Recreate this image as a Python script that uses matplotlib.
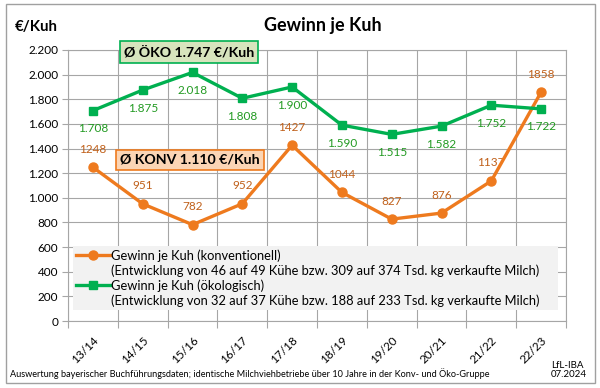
import numpy as np
import matplotlib
matplotlib.use("Agg")
import matplotlib.pyplot as plt
from matplotlib.lines import Line2D
from matplotlib.patches import Rectangle

plt.rcParams['font.family'] = ['Lato', 'DejaVu Sans']

years = ["13/14", "14/15", "15/16", "16/17", "17/18",
         "18/19", "19/20", "20/21", "21/22", "22/23"]
konv = [1248, 951, 782, 952, 1427, 1044, 827, 876, 1137, 1858]
oeko = [1708, 1875, 2018, 1808, 1900, 1590, 1515, 1582, 1752, 1722]
avg_konv = 1110
avg_oeko = 1747
yticks = [0, 200, 400, 600, 800, 1000, 1200, 1400, 1600, 1800, 2000, 2200]

ORANGE = "#EE7A1E"
ORANGE_TXT = "#C0601A"
GREEN = "#00B050"
GREEN_TXT = "#229A22"
GRID = "#A6A6A6"


def de(v):
    return f"{v:,.0f}".replace(",", ".")


fig = plt.figure(figsize=(6.0, 3.88), dpi=100)
ax = fig.add_axes([68 / 600, 1 - 321 / 388, 498 / 600, 271 / 388])

x = np.arange(len(years))
ax.plot(x, konv, color=ORANGE, lw=2.4, marker="o", ms=6.5, zorder=5)
ax.plot(x, oeko, color=GREEN, lw=2.4, marker="s", ms=6, zorder=5)

for xi, v in zip(x, konv):
    ax.annotate(str(v), (xi, v), xytext=(0, 13), textcoords="offset points",
                ha="center", va="center", color=ORANGE_TXT, fontsize=8.5)
for xi, v in zip(x, oeko):
    ax.annotate(de(v), (xi, v), xytext=(0, -13), textcoords="offset points",
                ha="center", va="center", color=GREEN_TXT, fontsize=8.5)

ax.set_xlim(-0.5, len(years) - 0.5)
ax.set_ylim(0, 2200)
ax.set_yticks(yticks)
ax.set_yticklabels([de(v) for v in yticks], fontsize=8.5)
ax.set_xticks(x)
ax.set_xticklabels(years, rotation=45, ha="right", rotation_mode="anchor",
                   fontsize=8.5)
ax.tick_params(axis="x", which="major", length=0, pad=10)
ax.set_xticks(np.arange(len(years) + 1) - 0.5, minor=True)
ax.tick_params(axis="x", which="minor", length=5, color=GRID, width=0.8)
ax.tick_params(axis="y", length=4, color=GRID, width=0.8, pad=3)
ax.grid(True, axis="y", color=GRID, lw=0.8)
ax.grid(True, axis="x", which="minor", color=GRID, lw=0.8)
for s in ax.spines.values():
    s.set_color(GRID)
    s.set_linewidth(0.8)

h1 = Line2D([], [], color=ORANGE, lw=2.4, marker="o", ms=6.5)
h2 = Line2D([], [], color=GREEN, lw=2.4, marker="s", ms=6)
blank = Line2D([], [], color="none")
labels = ["Gewinn je Kuh (konventionell)",
          "(Entwicklung von 46 auf 49 Kühe bzw. 309 auf 374 Tsd. kg verkaufte Milch)",
          "Gewinn je Kuh (ökologisch)",
          "(Entwicklung von 32 auf 37 Kühe bzw. 188 auf 233 Tsd. kg verkaufte Milch)"]
leg = ax.legend([h1, blank, h2, blank], labels, loc="lower left",
                bbox_to_anchor=(0.01, 0.04, 0.974, 0.2), mode="expand",
                fontsize=9.3, frameon=True,
                fancybox=False, handlelength=2.6, handletextpad=0.1,
                labelspacing=0.2, borderpad=0.25, borderaxespad=0)
leg.get_frame().set_facecolor("#F2F2F2")
leg.get_frame().set_edgecolor("none")
leg.get_frame().set_alpha(1)
leg.set_zorder(6)

fig.text(323 / 600, 1 - 25 / 388, "Gewinn je Kuh", ha="center", va="center",
         fontsize=13, fontweight="bold")
fig.text(15 / 600, 1 - 27 / 388, "€/Kuh", ha="left", va="center",
         fontsize=10.8, fontweight="bold")

fig.text(189 / 600, 1 - 52 / 388, f"Ø ÖKO {de(avg_oeko)} €/Kuh", ha="center",
         va="center", fontsize=10.2, fontweight="bold",
         bbox=dict(boxstyle="square,pad=0.3", fc="#D7E4BD", ec=GREEN, lw=1.2))
fig.text(190 / 600, 1 - 160 / 388, f"Ø KONV {de(avg_konv)} €/Kuh", ha="center",
         va="center", fontsize=10.2, fontweight="bold",
         bbox=dict(boxstyle="square,pad=0.3", fc="#FBD5B5", ec=ORANGE, lw=1.2))

fig.text(10 / 600, 1 - 374 / 388,
         "Auswertung bayerischer Buchführungsdaten; identische Milchviehbetriebe "
         "über 10 Jahre in der Konv- und Öko-Gruppe",
         ha="left", va="center", fontsize=6.6)
fig.text(551 / 600, 1 - 370 / 388, "LfL-IBA\n07.2024", ha="left", va="center",
         fontsize=7, linespacing=1.05)

fig.patches.append(Rectangle((6 / 600, 1 - 383 / 388), 589 / 600, 379 / 388,
                             transform=fig.transFigure, fill=False,
                             ec="#A0A0A0", lw=1))

fig.savefig("out.png", dpi=100)
